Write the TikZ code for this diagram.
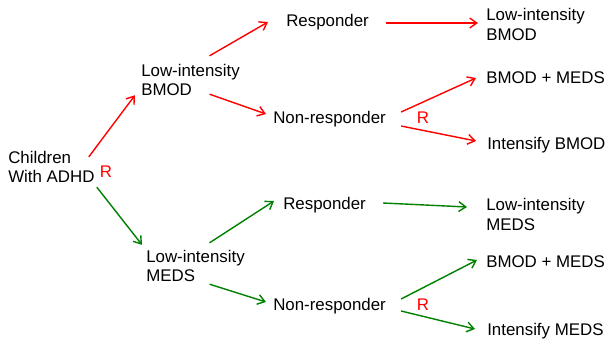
\documentclass[tikz,border=0pt]{standalone}
\usepackage{fontspec}
\setmainfont{Liberation Sans}
\usetikzlibrary{arrows.meta,positioning}

\begin{document}
\begin{tikzpicture}[x=0.025cm,y=-0.025cm,font=\fontsize{12pt}{13.8pt}\selectfont,
 lbl/.style={align=left,inner sep=0pt,anchor=west},
 rlab/.style={text=red,inner sep=0pt},
 bmod/.style={draw=red,line width=1pt,-{Straight Barb[length=5pt,width=7pt]}},
 meds/.style={draw=green!50!black,line width=1pt,-{Straight Barb[length=5pt,width=7pt]}}]
\useasboundingbox (0,0) rectangle (606,338);
% first stage
\node[lbl] (child) at (8,167) {Children\\With ADHD};
\node[rlab] (r1) at (106,172) {R};
\node[lbl] (lbmod) at (141,80) {Low-intensity\\BMOD};
\node[lbl] (lmeds) at (146,266) {Low-intensity\\MEDS};
% second stage
\node[lbl] (resp1) at (286,22) {Responder};
\node[lbl] (nonr1) at (273,119) {Non-responder};
\node[lbl] (resp2) at (283,205) {Responder};
\node[lbl] (nonr2) at (273,306) {Non-responder};
\node[rlab] (r2) at (423,118) {R};
\node[rlab] (r3) at (423,305) {R};
% outcomes
\node[lbl] (lbmod2) at (486,24.5) {Low-intensity\\BMOD};
\node[lbl] (bm1) at (486,78) {BMOD + MEDS};
\node[lbl] (intb) at (487,145) {Intensify BMOD};
\node[lbl] (lmeds2) at (486,214.5) {Low-intensity\\MEDS};
\node[lbl] (bm2) at (486,262) {BMOD + MEDS};
\node[lbl] (intm) at (487,331) {Intensify MEDS};
% connectors
\draw[bmod] ([shift={(-6,6)}]child.north east) -- ([shift={(-6,-1)}]lbmod.south west);
\draw[meds] ([shift={(2,4)}]child.south east) -- ([shift={(-4,-5)}]lmeds.north west);
\draw[bmod] ([shift={(19,-8)}]lbmod.north) -- ([shift={(-18,0)}]resp1.west);
\draw[bmod] ([shift={(19,-2)}]lbmod.south) -- ([shift={(-7,-5)}]nonr1.west);
\draw[bmod] ([shift={(17,1)}]resp1.east) -- ([shift={(-8,-1.5)}]lbmod2.west);
\draw[bmod] ([shift={(15,-7)}]nonr1.east) -- ([shift={(-10,0)}]bm1.west);
\draw[bmod] ([shift={(15,7)}]nonr1.east) -- ([shift={(-11,-4)}]intb.west);
\draw[meds] ([shift={(14,-7)}]lmeds.north) -- ([shift={(-9,-4)}]resp2.west);
\draw[meds] ([shift={(14,2)}]lmeds.south) -- ([shift={(-7,-4)}]nonr2.west);
\draw[meds] ([shift={(17,-2)}]resp2.east) -- ([shift={(-19,-7.5)}]lmeds2.west);
\draw[meds] ([shift={(15,-7)}]nonr2.east) -- ([shift={(-9,-2)}]bm2.west);
\draw[meds] ([shift={(15,5)}]nonr2.east) -- ([shift={(-12,-2)}]intm.west);
\end{tikzpicture}
\end{document}
